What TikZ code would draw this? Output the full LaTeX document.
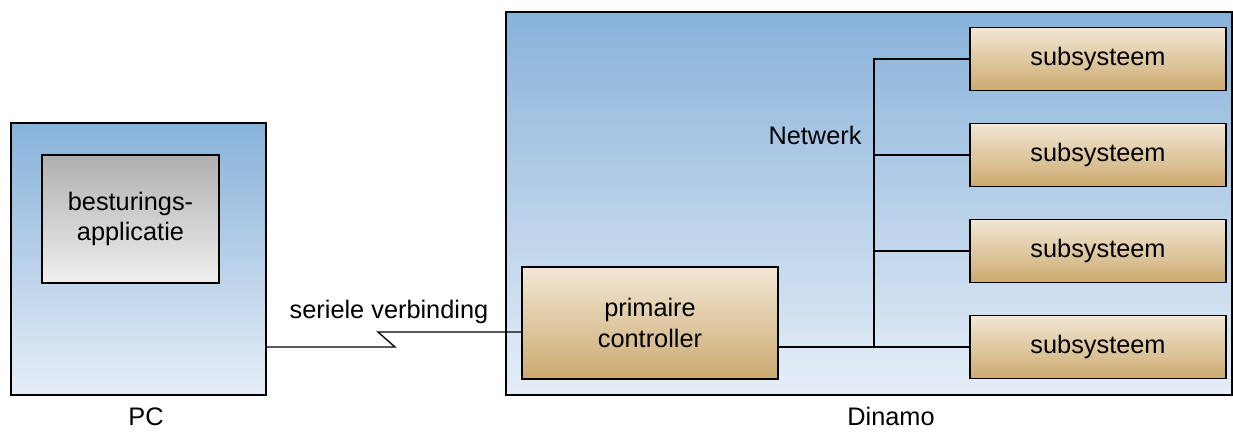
\documentclass[tikz,border=0pt]{standalone}
\usepackage{fontspec}
\setmainfont{Liberation Sans}
\usetikzlibrary{positioning}
\definecolor{bluetop}{RGB}{136,178,218}
\definecolor{bluebot}{RGB}{230,238,247}
\definecolor{tantop}{RGB}{242,231,213}
\definecolor{tanbot}{RGB}{204,170,112}
\definecolor{graytop}{RGB}{176,176,176}
\definecolor{graybot}{RGB}{239,239,239}
\tikzset{
    frame/.style={draw, line width=1pt, top color=bluetop, bottom color=bluebot, inner sep=0pt},
    unit/.style={draw, line width=1pt, top color=tantop, bottom color=tanbot, inner sep=0pt, align=center, font=\fontsize{19}{23}\selectfont},
    appbox/.style={draw, line width=1pt, top color=graytop, bottom color=graybot, inner sep=0pt, align=center, font=\fontsize{19}{23}\selectfont},
    lbl/.style={inner sep=0.75pt, font=\fontsize{19}{23}\selectfont},
    wire/.style={line width=1pt}
}
\begin{document}
\begin{tikzpicture}[x=0.75pt,y=0.75pt,yscale=-1,xscale=1]
\useasboundingbox (0,0) rectangle (1233,432);

%Shape: Rectangle [PC]
\node [frame, minimum width=191.25pt, minimum height=204pt] (pc) at (138.5,259) {};
%Shape: Rectangle [Dinamo]
\node [frame, minimum width=544.5pt, minimum height=287.25pt] (dinamo) at (869,203.5) {};

%Shape: Rectangle [besturingsapplicatie]
\node [appbox, minimum width=132.75pt, minimum height=96pt] (app) at (130.5,219) {besturings-\\applicatie};
%Shape: Rectangle [primaire controller]
\node [unit, minimum width=192pt, minimum height=84pt] (ctrl) at (650,323) {primaire\\controller};
%Shape: Rectangle [subsystemen]
\foreach \i/\y in {1/59,2/155,3/251,4/347}
    \node [unit, minimum width=192pt, minimum height=47.25pt] (sub\i) at (1098,\y) {subsysteem};

%Netwerk
\coordinate (bus1) at (874,59);
\coordinate (bus4) at (874,347);
\draw [wire] (ctrl.east |- bus4) -- (bus4) -- (sub4.west);
\draw [wire] (bus4) -- (bus1) -- (sub1.west);
\foreach \i in {2,3}
    \draw [wire] (bus1 |- sub\i) -- (sub\i.west);

%Seriele verbinding
\coordinate (ser1) at (395,347);
\coordinate (ser2) at (378,332);
\draw [wire] (pc.east |- ser1) -- (ser1) -- (ser2) -- (ctrl.west |- ser2);

% Text Node
\node [lbl] (serlbl) at (389,312) {seriele verbinding};
% Text Node
\node [lbl] (netlbl) at (815,135) {Netwerk};
% Text Node
\node [lbl, anchor=base] (pclbl) at (146,425) {PC};
% Text Node
\node [lbl, anchor=base] (dinlbl) at (891,425) {Dinamo};

\end{tikzpicture}
\end{document}
